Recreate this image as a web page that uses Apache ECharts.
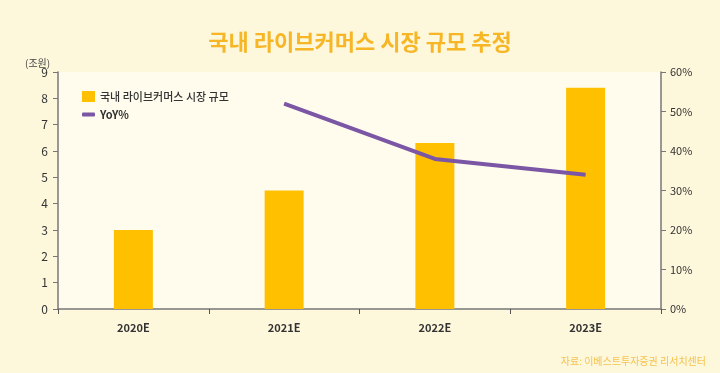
<!DOCTYPE html>
<html><head><meta charset="utf-8">
<script src="https://cdn.jsdelivr.net/npm/echarts@6/dist/echarts.min.js"></script>
<style>html,body{margin:0;padding:0;background:#fdf7dc;}#c{width:720px;height:373px;}</style>
</head><body><div id="c"></div>
<script>
const categories = ['2020E', '2021E', '2022E', '2023E'];
const marketSize = [3.0, 4.5, 6.3, 8.4];
const yoy = [null, 52, 38, 34];
const leftTicks = [0, 9, 1];
const rightTicks = [0, 60, 10];
const FONT = '"Noto Sans CJK KR", "Noto Sans", sans-serif';

const chart = echarts.init(document.getElementById('c'), null, {renderer: 'canvas'});
chart.setOption({
  backgroundColor: '#fdf7dc',
  animation: false,
  textStyle: {fontFamily: FONT},
  title: [{
    text: '국내 라이브커머스 시장 규모 추정',
    left: 'center', top: 26,
    textStyle: {fontFamily: FONT, fontSize: 22, fontWeight: 'bold', color: '#f6b625'}
  }, {
    text: '(조원)', left: 20, top: 53,
    textStyle: {fontFamily: FONT, fontSize: 10, fontWeight: 'normal', color: '#444'}
  }, {
    text: '자료: 이베스트투자증권 리서치센터', right: 9, top: 351,
    textStyle: {fontFamily: FONT, fontSize: 10, fontWeight: 'normal', color: '#f5c34f'}
  }],
  legend: [{
    data: ['국내 라이브커머스 시장 규모'], left: 77, top: 86, orient: 'vertical',
    itemWidth: 13, itemHeight: 11, icon: 'rect', itemGap: 8,
    textStyle: {fontFamily: FONT, fontSize: 11, fontWeight: 500, color: '#333'}
  }, {
    data: ['YoY%'], left: 77, top: 104, orient: 'vertical',
    itemWidth: 13, itemHeight: 4, icon: 'roundRect',
    textStyle: {fontFamily: FONT, fontSize: 11, fontWeight: 'bold', color: '#333'}
  }],
  grid: {left: 58, right: 59, top: 72, bottom: 64, show: true, backgroundColor: '#fffcee', borderWidth: 0},
  xAxis: {
    type: 'category', data: categories,
    axisLine: {lineStyle: {color: '#777', width: 1.5}},
    axisTick: {show: true, alignWithLabel: false, inside: false, length: 5, lineStyle: {color: '#555'}},
    axisLabel: {fontFamily: FONT, fontSize: 11, fontWeight: 'bold', color: '#333', margin: 13}
  },
  yAxis: [{
    type: 'value', min: leftTicks[0], max: leftTicks[1], interval: leftTicks[2],
    axisLine: {show: true, lineStyle: {color: '#777', width: 1.5}},
    axisTick: {show: true, length: 5, lineStyle: {color: '#777'}},
    splitLine: {show: false},
    axisLabel: {fontFamily: FONT, fontSize: 12, color: '#333', margin: 10}
  }, {
    type: 'value', min: rightTicks[0], max: rightTicks[1], interval: rightTicks[2],
    position: 'right',
    axisLine: {show: true, lineStyle: {color: '#777', width: 1.5}},
    axisTick: {show: true, length: 5, lineStyle: {color: '#777'}},
    splitLine: {show: false},
    axisLabel: {fontFamily: FONT, fontSize: 11, color: '#333', margin: 9, formatter: '{value}%'}
  }],
  series: [{
    name: '국내 라이브커머스 시장 규모', type: 'bar', data: marketSize,
    barWidth: 39, itemStyle: {color: '#ffc000'}
  }, {
    name: 'YoY%', type: 'line', yAxisIndex: 1, data: yoy,
    symbol: 'none', lineStyle: {color: '#7a56a5', width: 4},
    itemStyle: {color: '#7a56a5'}
  }]
});
</script></body></html>
